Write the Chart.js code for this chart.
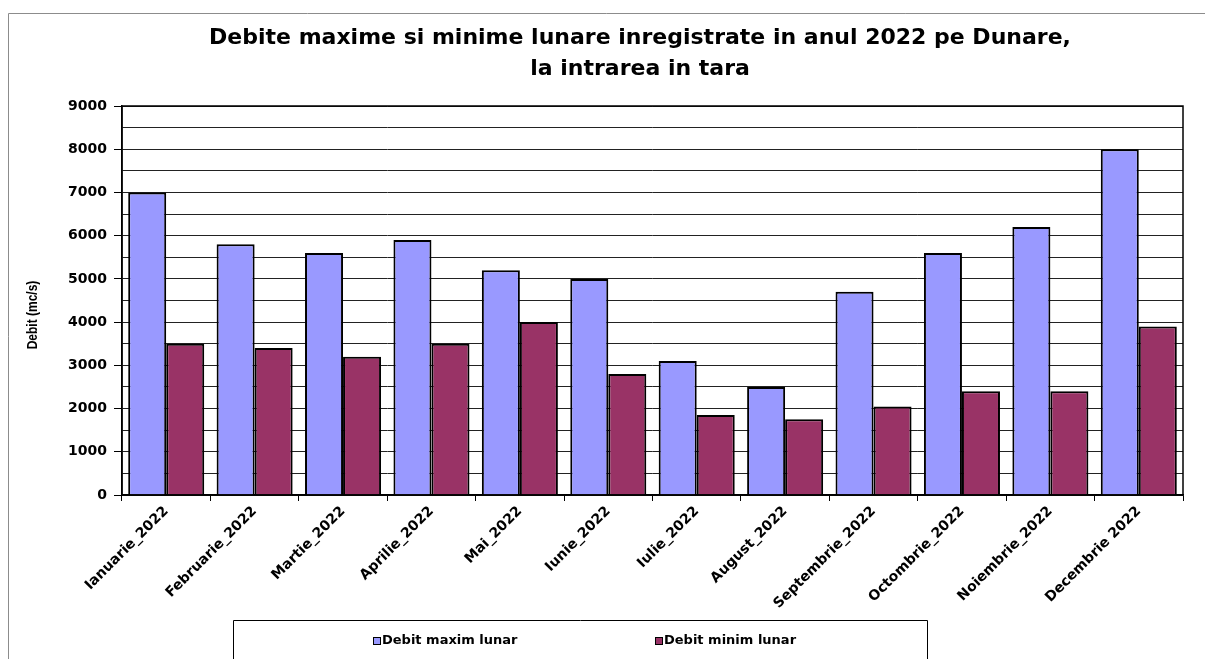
<!DOCTYPE html>
<html>
<head>
<meta charset="utf-8">
<script src="https://cdn.jsdelivr.net/npm/chart.js@4/dist/chart.umd.min.js"></script>
<style>
  html, body { margin: 0; padding: 0; background: #fff; }
  #wrap { width: 1205px; height: 659px; position: relative; }
</style>
</head>
<body>
<div id="wrap"><canvas id="debitChart"></canvas></div>
<script>
const titleLines = ['Debite maxime si minime lunare inregistrate in anul 2022 pe Dunare,', 'la intrarea in tara'];
const months = ['Ianuarie_2022', 'Februarie_2022', 'Martie_2022', 'Aprilie_2022', 'Mai_2022', 'Iunie_2022',
    'Iulie_2022', 'August_2022', 'Septembrie_2022', 'Octombrie_2022', 'Noiembrie_2022', 'Decembrie 2022'];
const debitMaxim = [7000, 5800, 5600, 5900, 5200, 5000, 3100, 2500, 4700, 5600, 6200, 8000];
const debitMinim = [3500, 3400, 3200, 3500, 4000, 2800, 1850, 1750, 2050, 2400, 2400, 3900];
const seriesNames = ['Debit maxim lunar', 'Debit minim lunar'];
const yTitle = 'Debit (mc/s)';

const wideFont = 'DejaVu Sans';

// frame, title, axis title, plot border and the boxed legend
const decorPlugin = {
    id: 'decor',
    afterDraw(chart) {
        const ctx = chart.ctx;
        const area = chart.chartArea;
        ctx.save();

        // outer frame (cut off at right/bottom like the reference)
        ctx.strokeStyle = '#8c8c8c';
        ctx.lineWidth = 1;
        ctx.beginPath();
        ctx.moveTo(8.5, chart.height);
        ctx.lineTo(8.5, 13.5);
        ctx.lineTo(chart.width, 13.5);
        ctx.stroke();

        // plot border
        ctx.strokeStyle = '#000';
        ctx.lineWidth = 1.5;
        ctx.strokeRect(area.left, area.top, area.right - area.left, area.bottom - area.top);

        // title
        ctx.fillStyle = '#000';
        ctx.font = 'bold 22px "' + wideFont + '"';
        ctx.textAlign = 'center';
        ctx.textBaseline = 'middle';
        titleLines.forEach((line, i) => {
            ctx.fillText(line, 640, 38 + i * 31);
        });

        // y axis title, slightly stretched like the source picture
        ctx.save();
        ctx.translate(33, 315);
        ctx.rotate(-Math.PI / 2);
        ctx.scale(1, 1.25);
        ctx.font = 'bold 12px "Liberation Sans"';
        ctx.fillText(yTitle, 0, 0);
        ctx.restore();

        // legend box
        const boxLeft = 233, boxRight = 927, boxTop = 620;
        ctx.strokeStyle = '#000';
        ctx.lineWidth = 1;
        ctx.beginPath();
        ctx.moveTo(boxLeft + 0.5, chart.height);
        ctx.lineTo(boxLeft + 0.5, boxTop + 0.5);
        ctx.lineTo(boxRight + 0.5, boxTop + 0.5);
        ctx.lineTo(boxRight + 0.5, chart.height);
        ctx.stroke();

        ctx.font = 'bold 13px "' + wideFont + '"';
        ctx.textAlign = 'left';
        chart.data.datasets.forEach((ds, i) => {
            const x = boxLeft + 140 + i * 282;
            const y = 641;
            ctx.fillStyle = ds.backgroundColor;
            ctx.fillRect(x, y - 4, 7, 7);
            ctx.strokeStyle = '#000';
            ctx.lineWidth = 1;
            ctx.strokeRect(x + 0.5, y - 3.5, 7, 7);
            ctx.fillStyle = '#000';
            ctx.fillText(ds.label, x + 9, y);
        });
        ctx.restore();
    }
};

const ctx = document.getElementById('debitChart').getContext('2d');
new Chart(ctx, {
    type: 'bar',
    data: {
        labels: months,
        datasets: [{
            label: seriesNames[0],
            data: debitMaxim,
            backgroundColor: '#9999FF',
            borderColor: '#000',
            borderWidth: 2,
            categoryPercentage: 0.86,
            barPercentage: 1
        }, {
            label: seriesNames[1],
            data: debitMinim,
            backgroundColor: '#993366',
            borderColor: '#000',
            borderWidth: 2,
            categoryPercentage: 0.86,
            barPercentage: 1
        }]
    },
    options: {
        responsive: true,
        maintainAspectRatio: false,
        animation: false,
        layout: {
            padding: { top: 106, right: 22, bottom: 0, left: 8 }
        },
        scales: {
            x: {
                afterFit: scale => { scale.height = 164; },
                grid: {
                    offset: true,
                    drawOnChartArea: false,
                    tickLength: 6,
                    tickColor: '#000'
                },
                border: { color: '#000', width: 1.5 },
                ticks: {
                    autoSkip: false,
                    minRotation: 45,
                    maxRotation: 45,
                    padding: 2,
                    color: '#000',
                    font: { family: wideFont, weight: 'bold', size: 14 }
                }
            },
            y: {
                min: 0,
                max: 9000,
                afterFit: scale => { scale.width = 114; },
                grid: {
                    color: '#222',
                    lineWidth: 1,
                    tickLength: 8,
                    tickColor: c => (c.tick && c.tick.value % 1000 === 0) ? '#000' : 'rgba(0,0,0,0)'
                },
                border: { color: '#000', width: 1.5 },
                ticks: {
                    stepSize: 500,
                    padding: 7,
                    color: '#000',
                    font: { family: wideFont, weight: 'bold', size: 14 },
                    callback: v => v % 1000 === 0 ? v : ''
                }
            }
        },
        plugins: {
            legend: { display: false },
            title: { display: false },
            tooltip: { enabled: false }
        }
    },
    plugins: [decorPlugin]
});
</script>
</body>
</html>
